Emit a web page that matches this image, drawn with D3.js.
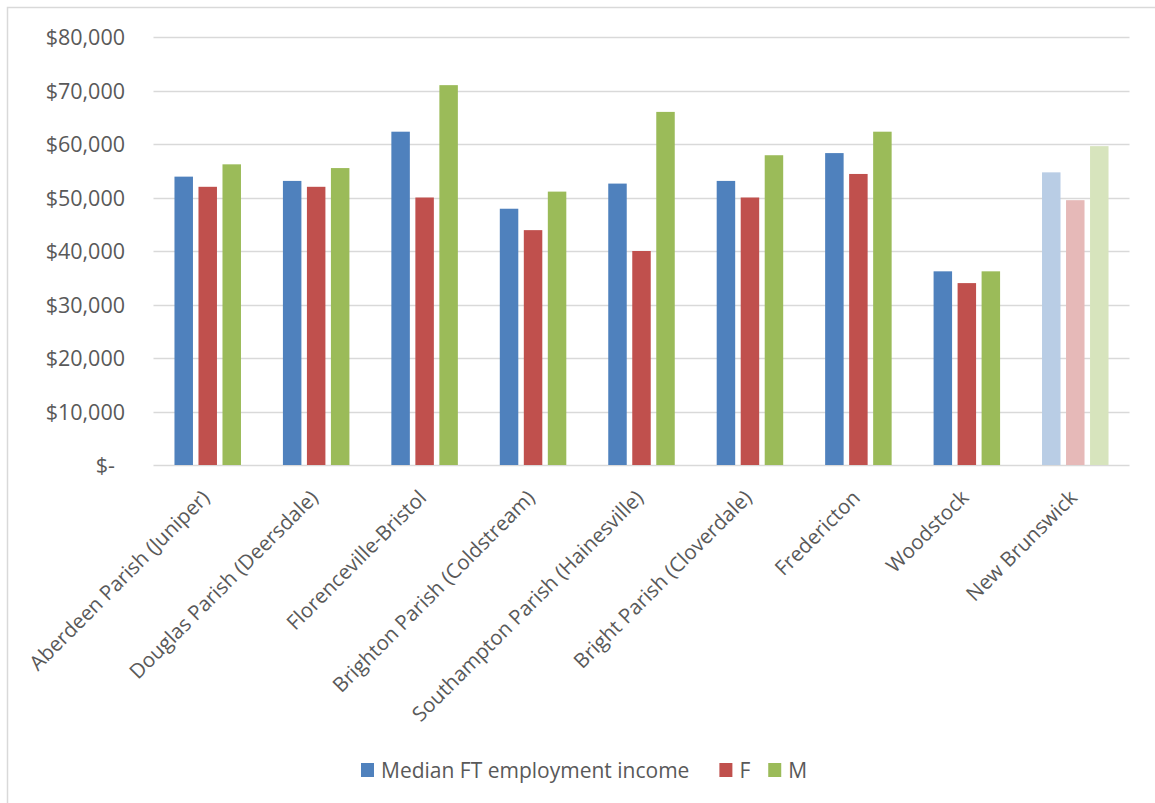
<!DOCTYPE html>
<html>
<head>
<meta charset="utf-8">
<script src="https://cdn.jsdelivr.net/npm/d3@7/dist/d3.min.js"></script>
<style>
  html, body { margin: 0; padding: 0; background: #fff; }
  svg { display: block; font-family: "Open Sans", "Noto Sans", sans-serif; }
</style>
</head>
<body>
<svg id="chart" width="1155" height="803"></svg>
<script>
// Median full-time employment income by community, overall and by sex
const categories = [
  "Aberdeen Parish (Juniper)",
  "Douglas Parish (Deersdale)",
  "Florenceville-Bristol",
  "Brighton Parish (Coldstream)",
  "Southampton Parish (Hainesville)",
  "Bright Parish (Cloverdale)",
  "Fredericton",
  "Woodstock",
  "New Brunswick"
];
const seriesNames = ["Median FT employment income", "F", "M"];
const medianValues = [53900, 53100, 62300, 47900, 52600, 53100, 58300, 36200, 54700];
const femaleValues = [52000, 52000, 50000, 43900, 40000, 50000, 54400, 34000, 49500];
const maleValues   = [56200, 55500, 71000, 51100, 66000, 57900, 62300, 36200, 59600];
const yTicks = [0, 10000, 20000, 30000, 40000, 50000, 60000, 70000, 80000];

const colors = ["#4F81BD", "#C0504D", "#9BBB59"];
const lightColors = ["#B9CDE5", "#E6B9B8", "#D7E4BD"]; // provincial reference group
const highlightCategory = "New Brunswick";

const textColor = "#595959";

const svg = d3.select("#chart");

// chart frame
svg.append("rect")
  .attr("x", 7.5).attr("y", 7.5)
  .attr("width", 1200).attr("height", 900)
  .attr("fill", "none").attr("stroke", "#d9d9d9").attr("stroke-width", 1.5);

const plot = { left: 153.5, right: 1129.5, top: 37, bottom: 465 };

const x0 = d3.scaleBand().domain(categories).range([plot.left, plot.right]).paddingInner(0).paddingOuter(0);
const y = d3.scaleLinear().domain([0, 80000]).range([plot.bottom, plot.top]);

const groupWidth = 66.5;
const x1 = d3.scaleBand().domain(seriesNames).range([0, groupWidth]).paddingInner(0.23).paddingOuter(0);

// gridlines
const grid = svg.append("g").attr("class", "grid");
grid.selectAll("line").data(yTicks).join("line")
  .attr("x1", plot.left).attr("x2", plot.right)
  .attr("y1", d => Math.round(y(d)) + 0.5).attr("y2", d => Math.round(y(d)) + 0.5)
  .attr("stroke", "#d9d9d9").attr("stroke-width", 1.5);

// y axis labels
const fmt = d => d === 0 ? "$-" : "$" + d3.format(",")(d);
const yAxis = d3.axisLeft(y).tickValues(yTicks).tickFormat(fmt).tickSize(0).tickPadding(0);
const yg = svg.append("g").attr("transform", `translate(125,0)`).call(yAxis);
yg.select(".domain").remove();
yg.selectAll("text")
  .attr("fill", textColor).style("font-size", "21.5px").style("font-family", "Open Sans")
  .attr("dy", "0.35em");
yg.selectAll(".tick").filter(d => d === 0).select("text").attr("x", -10);

// bars
const data = categories.map((c, i) => ({
  category: c,
  values: [medianValues[i], femaleValues[i], maleValues[i]]
}));

const groups = svg.append("g").selectAll("g").data(data).join("g")
  .attr("transform", d => `translate(${x0(d.category) + (x0.bandwidth() - groupWidth) / 2},0)`);

groups.selectAll("rect")
  .data(d => d.values.map((v, j) => ({ series: seriesNames[j], j, v, cat: d.category })))
  .join("rect")
  .attr("x", d => x1(d.series))
  .attr("width", x1.bandwidth())
  .attr("y", d => y(d.v))
  .attr("height", d => y(0) - y(d.v))
  .attr("fill", d => d.cat === highlightCategory ? lightColors[d.j] : colors[d.j]);

// category labels, rotated
const xg = svg.append("g");
xg.selectAll("text").data(categories).join("text")
  .attr("transform", d => `translate(${x0(d) + x0.bandwidth() / 2 + 3},${plot.bottom + 34}) rotate(-45)`)
  .attr("text-anchor", "end")
  .attr("fill", textColor)
  .style("font-size", "20.5px")
  .text(d => d);

// legend
const legendItems = seriesNames.map((n, i) => ({ name: n, color: colors[i] }));
const legend = svg.append("g");
const gaps = [30, 18, 0];
let lx = 361;
legendItems.forEach((it, i) => {
  const g = legend.append("g");
  g.append("rect").attr("x", lx).attr("y", 763).attr("width", 13).attr("height", 14).attr("fill", it.color);
  const t = g.append("text").attr("x", lx + 20).attr("y", 778)
    .attr("fill", textColor).style("font-size", "21px").text(it.name);
  const w = t.node().getComputedTextLength();
  lx = lx + 20 + w + gaps[i];
});
</script>
</body>
</html>
